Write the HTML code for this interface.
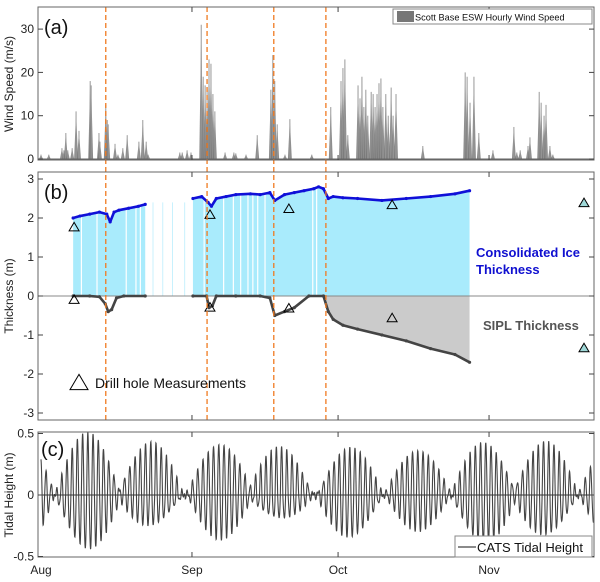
<!DOCTYPE html>
<html><head><meta charset="utf-8">
<style>
html,body{margin:0;padding:0;background:#fff;}
svg{display:block;font-family:"Liberation Sans",Arial,sans-serif;}
</style></head>
<body>
<svg id="chart" width="600" height="582" viewBox="0 0 600 582"></svg>
<script>
// ---------- DATA ----------
const monthLabels = ["Aug","Sep","Oct","Nov"];
const monthDays = [0,31,61,92];
const eventDays = [13.3,34.1,47.8,58.5];
// wind (day, peak m/s)
const windDays = [0.0,1.6,4.3,4.7,5.1,5.5,6.4,7.2,7.8,10.1,10.3,11.9,12.1,13.3,13.6,13.8,15.2,15.8,16.8,17.7,20.1,20.9,21.6,22.0,28.5,29.0,30.0,30.8,32.9,33.3,33.7,34.1,34.5,34.9,35.3,35.7,37.8,39.6,40.0,42.1,44.4,47.2,47.6,48.0,48.5,50.1,51.1,55.6,59.5,61.6,62.0,62.4,63.0,65.1,65.5,65.9,66.3,66.7,67.1,67.8,68.2,68.6,69.0,69.4,69.8,70.2,70.8,71.3,71.9,72.3,72.9,78.4,87.1,87.5,88.1,88.9,89.9,92.8,97.1,97.7,98.4,100.0,100.4,102.3,102.7,103.3,103.7,104.5,105.1];
const windSpeeds = [1,1,2.5,2,6,2,2.5,11,6.5,18,17,6,4,12.5,9,8,3.5,1,2.5,5.5,4,9,4,1,1.5,1.5,2,1.5,31,19,17,16,23,22,15,11,1.5,1.5,1.3,1,5.5,16,24,18,8,1,9.2,1,12,18,21,23,5.5,17,14,19,12,16,10,15.5,15,12,15,17.5,18.6,12,15,10,16.5,10,15,3,20,19,13,19,6,2,7.4,1.5,2,3,5,15.5,13,10,12.5,3,1];
// consolidated ice thickness
const iceDays1 = [6.6,8,10,12,13.5,14.2,15,16,18,20,21.4];
const iceVals1 = [2.0,2.05,2.1,2.15,2.1,1.9,2.15,2.2,2.25,2.3,2.35];
const iceDays2 = [31.2,33,34.3,35,36,38,40,43,45,47,48,50,52,54,56,57,58,59,60,62,65,70,75,80,85,88];
const iceVals2 = [2.5,2.55,2.4,2.3,2.5,2.55,2.6,2.62,2.6,2.65,2.45,2.6,2.65,2.7,2.75,2.8,2.75,2.5,2.55,2.52,2.5,2.45,2.5,2.55,2.62,2.7];
// SIPL thickness
const siplDays1 = [6.6,10,12,13.2,13.8,14.5,15.5,17,21.4];
const siplVals1 = [0,0,-0.02,-0.2,-0.4,-0.35,-0.05,0,0];
const siplDays2 = [31.2,34,34.5,35.2,36,40,45,47,48,50,52,55,58,59,60,62,65,70,75,80,85,88];
const siplVals2 = [0,0,-0.3,-0.25,0,0,0,-0.05,-0.5,-0.4,-0.3,0,0,-0.4,-0.6,-0.75,-0.85,-1.0,-1.15,-1.35,-1.5,-1.7];
// drill holes
const drillDays = [6.8,34.7,50.9,72.1,111.5];
const drillIce = [1.78,2.1,2.25,2.35,2.4];
const drillSipl = [-0.08,-0.28,-0.3,-0.55,-1.32];
// tide envelope (spring tides)
const springDays = [9.7,22.4,36.8,49.1,63.4,77.4,91.0,103.5];
const springUp = [0.5,0.43,0.43,0.38,0.38,0.38,0.42,0.43];
const springDown = [0.45,0.25,0.35,0.2,0.35,0.28,0.4,0.33];

// ---------- AXES ----------
const X0=41, PXD=4.87, XR=594, XL=38;
const xs = d => X0 + d*PXD;
const ya = v => 159 - v*4.33;          // wind
const yb = v => 296 - v*39;             // thickness
const yc = v => 495 - v*123;            // tide
const NS="http://www.w3.org/2000/svg";
const svg=document.getElementById('chart');
function mk(tag,attrs,parent){const e=document.createElementNS(NS,tag);for(const k in attrs)e.setAttribute(k,attrs[k]);(parent||svg).appendChild(e);return e;}

const panels=[{top:7,bot:160,name:'wind'},{top:172,bot:420,name:'thickness'},{top:432,bot:557,name:'tide'}];

// ---------- PANEL A: WIND ----------
const gA=mk('g',{});


for(let i=0;i<windDays.length;i++){
  const d=windDays[i], v=windSpeeds[i];
  const p=mk('polygon',{points:`${xs(d-0.4)},${ya(0)} ${xs(d)},${ya(v)} ${xs(d+0.4)},${ya(0)}`,fill:'#777','fill-opacity':'0.85'},gA);
  
  
  const l=mk('line',{x1:xs(d),x2:xs(d),y1:ya(0),y2:ya(v),stroke:'#999','stroke-width':'1'},gA);
  
  
}
mk('line',{x1:XL,x2:XR,y1:ya(0),y2:ya(0),stroke:'#666','stroke-width':'1'});

// ---------- PANEL B: THICKNESS ----------
function fillArea(days,vals,color,name){
  let pts=`${xs(days[0])},${yb(0)} `;
  days.forEach((d,i)=>pts+=`${xs(d)},${yb(vals[i])} `);
  pts+=`${xs(days[days.length-1])},${yb(0)}`;
  const p=mk('polygon',{points:pts,fill:color});
  
  
}
fillArea(iceDays1,iceVals1,'#a9ebfc','ice-fill-aug');
fillArea(iceDays2,iceVals2,'#a9ebfc','ice-fill-sep-oct');
(function(){
  const dd=[],vv=[];
  siplDays2.forEach((d,i)=>{if(d>=57){dd.push(d);vv.push(siplVals2[i]);}});
  fillArea(dd,vv,'#cbcbcb','sipl-fill');
})();
const gapDays=[8.3,11.5,17.5,19.5,20.4,33.5,37.5,39.5,41,42.5,43.5,44.5,46,55.8,56.6];
gapDays.forEach(d=>{const l=mk('line',{x1:xs(d),x2:xs(d),y1:yb(2.8),y2:yb(0),stroke:'#fff','stroke-width':'1.2'});
 });
[23,25,27,29.5].forEach(d=>{const l=mk('line',{x1:xs(d),x2:xs(d),y1:yb(2.4),y2:yb(0),stroke:'#c8f1fd','stroke-width':'1'});
 });
mk('line',{x1:XL,x2:XR,y1:yb(0),y2:yb(0),stroke:'#888','stroke-width':'1'});
function series(days,vals,color,name){
  const pts=days.map((d,i)=>`${xs(d)},${yb(vals[i])}`).join(' ');
  const p=mk('polyline',{points:pts,fill:'none',stroke:color,'stroke-width':'2.6','stroke-linejoin':'round'});
  
  
  days.forEach((d,i)=>{const c=mk('circle',{cx:xs(d),cy:yb(vals[i]),r:1.6,fill:color});
    });
}
series(iceDays1,iceVals1,'#1010d8','ice-thickness-line');
series(iceDays2,iceVals2,'#1010d8','ice-thickness-line');
series(siplDays1,siplVals1,'#444','sipl-thickness-line');
series(siplDays2,siplVals2,'#444','sipl-thickness-line');
function tri(x,y,fill,name,s){s=s||5;const p=mk('polygon',{points:`${x-s},${y+s*0.85} ${x},${y-s*0.85} ${x+s},${y+s*0.85}`,fill:fill,stroke:'#000','stroke-width':'1'});
 }
drillDays.forEach((d,i)=>{
  tri(xs(d),yb(drillIce[i]),i==4?'#9fd8d8':'none','drill-ice-marker');
  tri(xs(d),yb(drillSipl[i]),i==4?'#9fd8d8':'none','drill-sipl-marker');
});

// ---------- PANEL C: TIDE ----------
(function(){
  let pts=[];
  for(let t=0;t<=113.5;t+=0.04){
    let k=0;while(k<springDays.length-1&&Math.abs(springDays[k+1]-t)<Math.abs(springDays[k]-t))k++;
    const ph=(t-springDays[k])/13.7*Math.PI;
    const env=Math.max(0.05,Math.abs(Math.cos(ph)));
    const w=Math.cos(2*Math.PI*t*0.93+0.3);
    const a=w>=0?springUp[k]:springDown[k];
    pts.push(`${xs(t).toFixed(1)},${yc(w*a*env+0.02*Math.sin(t*12)).toFixed(1)}`);
  }
  const p=mk('polyline',{points:pts.join(' '),fill:'none',stroke:'#444','stroke-width':'1.1'});
  
  
})();
mk('line',{x1:XL,x2:XR,y1:yc(0),y2:yc(0),stroke:'#333','stroke-width':'1'});

// ---------- EVENT LINES ----------
eventDays.forEach(d=>{const l=mk('line',{x1:xs(d),x2:xs(d),y1:7,y2:420,stroke:'#f07a20','stroke-width':'1.3','stroke-dasharray':'5,3'});
 });

// ---------- FRAMES & TICKS ----------
panels.forEach(p=>{
  const r=mk('rect',{x:XL,y:p.top,width:XR-XL,height:p.bot-p.top,fill:'none',stroke:'#666','stroke-width':'1'});
  
  monthDays.forEach(d=>{if(d>0){mk('line',{x1:xs(d),x2:xs(d),y1:p.top,y2:p.top+5,stroke:'#444'});mk('line',{x1:xs(d),x2:xs(d),y1:p.bot,y2:p.bot-5,stroke:'#444'});}});
});
function yticks(vals,fn,name){vals.forEach(v=>{const y=fn(v);
  mk('line',{x1:XL,x2:XL+5,y1:y,y2:y,stroke:'#444'});mk('line',{x1:XR,x2:XR-5,y1:y,y2:y,stroke:'#444'});
  const t=mk('text',{x:XL-4,y:y+4,'text-anchor':'end','font-size':'12',fill:'#222'});t.textContent=v;
  });}
yticks([0,10,20,30],ya,'wind-y-tick');
yticks([3,2,1,0,-1,-2,-3],yb,'thickness-y-tick');
yticks([0.5,0,-0.5],yc,'tide-y-tick');
monthLabels.forEach((m,i)=>{const t=mk('text',{x:xs(monthDays[i]),y:574,'text-anchor':'middle','font-size':'12',fill:'#222'});t.textContent=m;
 });
function ylab(txt,y,name){const t=mk('text',{x:0,y:0,transform:`translate(13,${y}) rotate(-90)`,'text-anchor':'middle','font-size':'12',fill:'#222'});t.textContent=txt;
 }
ylab('Wind Speed (m/s)',84,'wind-y-axis-title');
ylab('Thickness (m)',296,'thickness-y-axis-title');
ylab('Tidal Height (m)',495,'tide-y-axis-title');
function txt(s,x,y,attrs,name){const t=mk('text',Object.assign({x:x,y:y},attrs));t.textContent=s;return t;}
txt('(a)',44,34,{'font-size':'20',fill:'#111'},'panel-label-a');
txt('(b)',44,199,{'font-size':'20',fill:'#111'},'panel-label-b');
txt('(c)',41,456,{'font-size':'20',fill:'#111'},'panel-label-c');
txt('Consolidated Ice',476,257,{'font-size':'13','font-weight':'bold',fill:'#1010d0'},'ice-label-line1');
txt('Thickness',476,274,{'font-size':'13','font-weight':'bold',fill:'#1010d0'},'ice-label-line2');
txt('SIPL Thickness',483,330,{'font-size':'13','font-weight':'bold',fill:'#555'},'sipl-label');
tri(79,382,'none','drill-legend-marker',9);
txt('Drill hole Measurements',95,388,{'font-size':'14',fill:'#111'},'drill-legend-label');
// legend a
const la=mk('rect',{x:393,y:9,width:199,height:15,fill:'#fff',stroke:'#888','stroke-width':'1'});

mk('rect',{x:397,y:11,width:17,height:11,fill:'#777'});
txt('Scott Base ESW Hourly Wind Speed',415,20.5,{'font-size':'9.2',fill:'#111'},'wind-legend-label');
// legend c
const lc=mk('rect',{x:455,y:536,width:137,height:21,fill:'#fff',stroke:'#888','stroke-width':'1'});

mk('line',{x1:458,x2:476,y1:547,y2:547,stroke:'#444','stroke-width':'1.2'});
txt('CATS Tidal Height',477,552,{'font-size':'13',fill:'#111'},'tide-legend-label');
</script>
</body></html>
